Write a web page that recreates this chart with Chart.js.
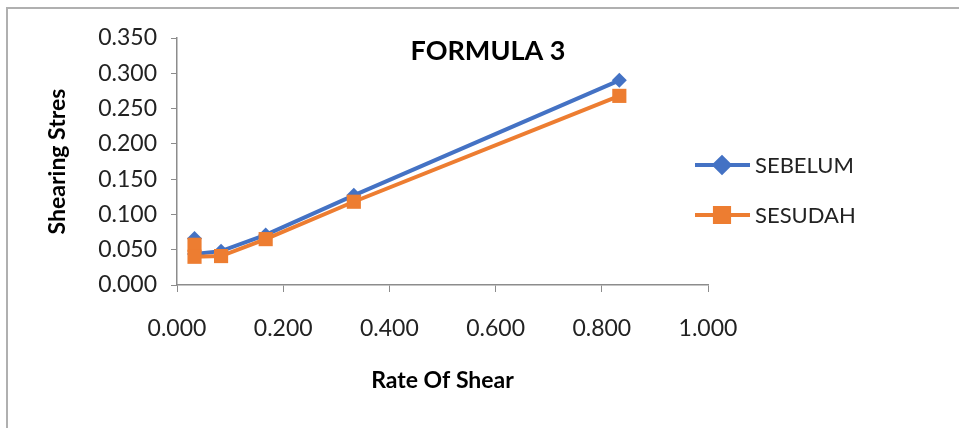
<!DOCTYPE html>
<html>
<head>
<meta charset="utf-8">
<script src="https://cdn.jsdelivr.net/npm/chart.js@4"></script>
<style>
html,body{margin:0;padding:0;background:#fff;}
#wrap{width:959px;height:428px;position:relative;}
</style>
</head>
<body>
<div id="wrap"><canvas id="c" width="959" height="428"></canvas></div>
<script>
const rateOfShear = [0.033, 0.033, 0.083, 0.167, 0.333, 0.833];
const sebelum = [0.066, 0.044, 0.048, 0.071, 0.127, 0.290];
const sesudah = [0.057, 0.040, 0.041, 0.065, 0.118, 0.268];
const seriesNames = ['SEBELUM', 'SESUDAH'];
const chartTitle = 'FORMULA 3';
const xTitle = 'Rate Of Shear';
const yTitle = 'Shearing Stres';

const FONT = 'Lato, "Open Sans", sans-serif';
const BLUE = '#4472C4';
const ORANGE = '#ED7D31';
const AXIS = '#8c8c8c';

function pts(xs, ys){ return xs.map((x,i)=>({x:x, y:ys[i]})); }

const overlay = {
  id: 'overlay',
  afterDraw(chart){
    const ctx = chart.ctx;
    ctx.save();
    // outer frame (top & left visible)
    ctx.strokeStyle = '#b0b0b0';
    ctx.lineWidth = 2;
    ctx.beginPath();
    ctx.moveTo(7, 428); ctx.lineTo(7, 8); ctx.lineTo(959, 8);
    ctx.stroke();
    // title
    ctx.fillStyle = '#000';
    ctx.font = 'bold 27px ' + FONT;
    ctx.textAlign = 'center';
    ctx.textBaseline = 'middle';
    ctx.fillText(chartTitle, 488, 51);
    // legend
    const ds = chart.data.datasets;
    const rows = [165, 215];
    ds.forEach((d, i) => {
      const y = rows[i];
      ctx.strokeStyle = d.borderColor;
      ctx.lineWidth = 4;
      ctx.beginPath(); ctx.moveTo(695, y); ctx.lineTo(750, y); ctx.stroke();
      Chart.helpers.drawPoint(ctx, {
        pointStyle: d.pointStyle, radius: d.pointRadius, rotation: 0,
        borderWidth: 1
      }, 722, y);
      ctx.fillStyle = d.backgroundColor;
      ctx.fill();
      ctx.fillStyle = '#222';
      ctx.font = '22px ' + FONT;
      ctx.textAlign = 'left';
      ctx.fillText(d.label, 755, y + 1);
    });
    ctx.restore();
  }
};

new Chart(document.getElementById('c'), {
  type: 'scatter',
  data: {
    datasets: [
      { label: seriesNames[0], data: pts(rateOfShear, sebelum), showLine: true, order: 1,
        borderColor: BLUE, backgroundColor: BLUE, borderWidth: 4,
        pointStyle: 'rectRot', pointRadius: 7.5, pointBorderWidth: 0 },
      { label: seriesNames[1], data: pts(rateOfShear, sesudah), showLine: true, order: 0,
        borderColor: ORANGE, backgroundColor: ORANGE, borderWidth: 4,
        pointStyle: 'rect', pointRadius: 10, pointBorderWidth: 0 }
    ]
  },
  options: {
    responsive: false,
    animation: false,
    layout: { padding: { left: 44, right: 251, top: 38, bottom: 34 } },
    plugins: { legend: { display: false }, title: { display: false }, tooltip: { enabled: false } },
    scales: {
      x: {
        type: 'linear', min: 0, max: 1,
        afterFit(s){ s.height = 109; },
        ticks: { stepSize: 0.2, padding: 23, color: '#222', font: { family: FONT, size: 23 },
          callback: v => Number(v).toFixed(3) },
        grid: { drawOnChartArea: false, drawTicks: true, tickLength: 7, color: AXIS },
        border: { color: AXIS, width: 1.5 },
        title: { display: true, text: xTitle, color: '#000', font: { family: FONT, size: 23, weight: 'bold' }, padding: 0 }
      },
      y: {
        type: 'linear', min: 0, max: 0.35,
        afterFit(s){ s.width = 133; },
        ticks: { stepSize: 0.05, padding: 14, color: '#222', font: { family: FONT, size: 23 },
          callback: v => Number(v).toFixed(3) },
        grid: { drawOnChartArea: false, drawTicks: true, tickLength: 6, color: AXIS },
        border: { color: AXIS, width: 1.5 },
        title: { display: true, text: yTitle, color: '#000', font: { family: FONT, size: 23, weight: 'bold' }, padding: 0 }
      }
    }
  },
  plugins: [overlay]
});
</script>
</body>
</html>
